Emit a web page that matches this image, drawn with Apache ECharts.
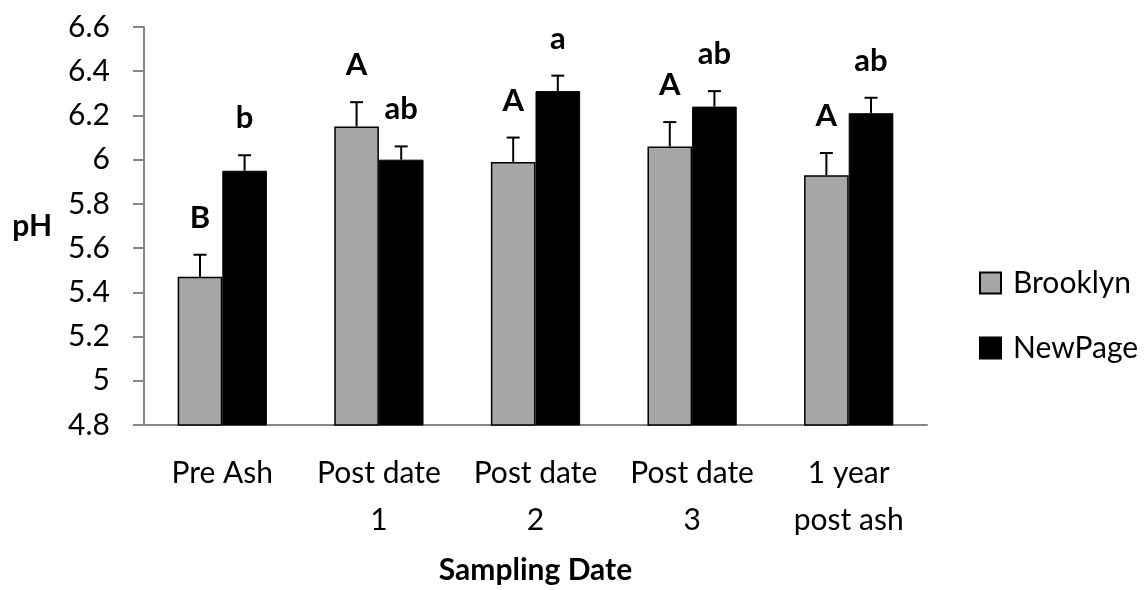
<!DOCTYPE html>
<html>
<head>
<meta charset="utf-8">
<script src="https://cdn.jsdelivr.net/npm/echarts@6/dist/echarts.min.js"></script>
<style>html,body{margin:0;padding:0;background:#fff;}#c{width:1144px;height:590px;}</style>
</head>
<body>
<div id="c"></div>
<script>
const categories = ['Pre Ash', 'Post date\n1', 'Post date\n2', 'Post date\n3', '1 year\npost ash'];
const brooklyn = [5.47, 6.15, 5.99, 6.06, 5.93];
const newpage = [5.95, 6.00, 6.31, 6.24, 6.21];
const brooklynErr = [0.10, 0.11, 0.11, 0.11, 0.10];
const newpageErr = [0.07, 0.06, 0.07, 0.07, 0.07];
const brooklynLetters = ['B', 'A', 'A', 'A', 'A'];
const newpageLetters = ['b', 'ab', 'a', 'ab', 'ab'];
const yTicks = [4.8, 6.6, 0.2];

const FONT = "Lato, 'Open Sans', sans-serif";
const GAP = 0.43;

function errSeries(name, vals, errs, letters, side) {
  return {
    type: 'custom',
    name: name + ' err',
    z: 5,
    silent: true,
    data: vals.map((v, i) => [i, v, errs[i]]),
    encode: { x: 0, y: 1 },
    renderItem: function (params, api) {
      const i = api.value(0), v = api.value(1), e = api.value(2);
      const band = api.size([1, 0])[0];
      const bw = band * (1 - GAP) / 2;
      const c = api.coord([i, v]);
      const x = c[0] + side * bw / 2;
      const top = api.coord([i, v + e])[1];
      const cap = 6.5;
      const st = { stroke: '#000', lineWidth: 2 };
      return {
        type: 'group',
        children: [
          { type: 'line', shape: { x1: x, y1: c[1], x2: x, y2: top }, style: st },
          { type: 'line', shape: { x1: x - cap, y1: top, x2: x + cap, y2: top }, style: st },
          { type: 'text', style: { x: x, y: top - 37, text: letters[i], fill: '#000',
              font: 'bold 31px ' + FONT, textAlign: 'center', textVerticalAlign: 'middle' } }
        ]
      };
    }
  };
}

const chart = echarts.init(document.getElementById('c'), null, { renderer: 'canvas' });
chart.setOption({
  animation: false,
  backgroundColor: '#fff',
  grid: { left: 144, right: 217, top: 27, bottom: 164, containLabel: false },
  legend: {
    orient: 'vertical', left: 974, top: 260, itemWidth: 21, itemHeight: 21, itemGap: 29,
    icon: 'rect',
    textStyle: { fontFamily: FONT, fontSize: 30, lineHeight: 36, color: '#000', padding: [0, 0, 0, 7] },
    data: ['Brooklyn', 'NewPage']
  },
  xAxis: {
    type: 'category', data: categories,
    name: 'Sampling Date', nameLocation: 'middle', nameGap: 130,
    nameTextStyle: { fontFamily: FONT, fontSize: 30, fontWeight: 'bold', color: '#000' },
    axisLine: { lineStyle: { color: '#868686', width: 2 } },
    axisTick: { length: 11, lineStyle: { color: '#868686', width: 2 } },
    axisLabel: { interval: 0, fontFamily: FONT, fontSize: 30, color: '#000', margin: 25, lineHeight: 47 }
  },
  yAxis: {
    type: 'value', min: yTicks[0], max: yTicks[1], interval: yTicks[2],
    name: 'pH', nameLocation: 'middle', nameRotate: 0, nameGap: 92,
    nameTextStyle: { fontFamily: FONT, fontSize: 30, fontWeight: 'bold', color: '#000', padding: [22, 0, 0, 0] },
    axisLine: { show: true, lineStyle: { color: '#868686', width: 2 } },
    axisTick: { show: true, length: 11, lineStyle: { color: '#868686', width: 2 } },
    splitLine: { show: false },
    axisLabel: { fontFamily: FONT, fontSize: 30, color: '#000', margin: 34,
      formatter: v => String(+v.toFixed(1)) }
  },
  series: [
    { name: 'Brooklyn', type: 'bar', data: brooklyn, barGap: '0%', barCategoryGap: '43%',
      itemStyle: { color: '#A6A6A6', borderColor: '#000', borderWidth: 1.5 } },
    { name: 'NewPage', type: 'bar', data: newpage,
      itemStyle: { color: '#000', borderColor: '#000', borderWidth: 1 } },
    errSeries('Brooklyn', brooklyn, brooklynErr, brooklynLetters, -1),
    errSeries('NewPage', newpage, newpageErr, newpageLetters, 1)
  ]
});
</script>
</body>
</html>
